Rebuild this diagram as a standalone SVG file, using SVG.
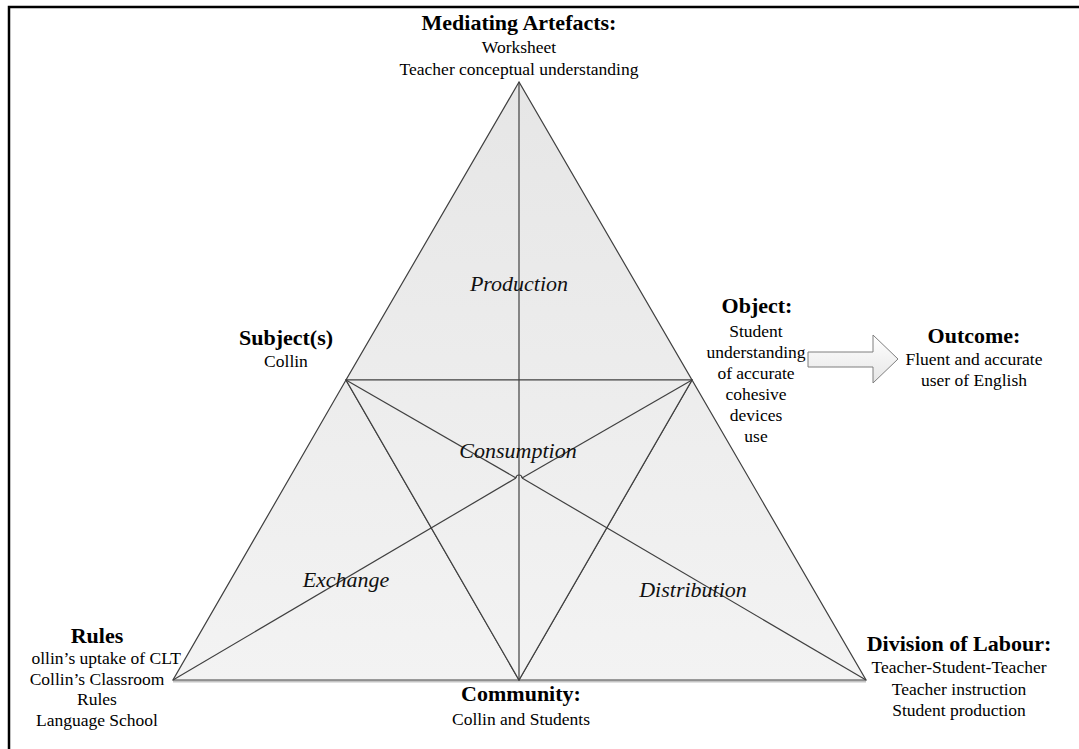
<svg xmlns="http://www.w3.org/2000/svg" width="1079" height="749" viewBox="0 0 1079 749">
  <defs>
    <linearGradient id="paneFill" gradientUnits="userSpaceOnUse" x1="0" y1="82" x2="0" y2="680">
      <stop offset="0" stop-color="#e6e6e6"/>
      <stop offset="1" stop-color="#f3f3f3"/>
    </linearGradient>
    <linearGradient id="arrowFill" x1="0" y1="0" x2="0" y2="1">
      <stop offset="0" stop-color="#ffffff"/>
      <stop offset="1" stop-color="#e6e6e6"/>
    </linearGradient>
  </defs>
  <style>
    .head{font-family:"Liberation Serif","Times New Roman",serif;font-weight:bold;font-size:22px;text-anchor:middle;fill:#000}
    .body{font-family:"Liberation Serif","Times New Roman",serif;font-size:17.5px;text-anchor:middle;fill:#000}
    .role{font-family:"Liberation Serif","Times New Roman",serif;font-style:italic;font-size:22px;text-anchor:middle;fill:#111}
    .pane{fill:url(#paneFill);stroke:#404040;stroke-width:1.2;stroke-linejoin:miter}
    .rib{fill:none;stroke:#404040;stroke-width:1.2}
  </style>

  <rect x="0" y="0" width="1079" height="749" fill="#ffffff"/>
  <!-- page frame -->
  <path d="M9 749 V7 H1079" fill="none" stroke="#000" stroke-width="2.5"/>

  <!-- activity system triangle -->
  <g id="activity-triangle">
    <line x1="173" y1="681.5" x2="866" y2="681.5" stroke="#c4c4c4" stroke-width="2"/>
    <path class="pane" d="M519 82 L346 380 L692 380 Z"/>
    <path class="pane" d="M346 380 L173 680 L519 680 Z"/>
    <path class="pane" d="M692 380 L519 680 L866 680 Z"/>
    <path class="pane" d="M346 380 L692 380 L519 680 Z"/>
    <path class="rib" d="M519 82 V680"/>
    <path class="rib" d="M346 380 L516 478"/>
    <path class="rib" d="M522 478 L866 680"/>
    <path class="rib" d="M692 380 L522 478"/>
    <path class="rib" d="M516 478 L173 680"/>
    <path class="rib" d="M516 478 A3 3 0 0 1 522 478"/>
    <text class="role" x="519" y="291">Production</text>
    <text class="role" x="518" y="458">Consumption</text>
    <text class="role" x="346" y="587">Exchange</text>
    <text class="role" x="693" y="597">Distribution</text>
  </g>

  <g id="node-mediating-artefacts">
    <text class="head" x="519" y="30">Mediating Artefacts:</text>
    <text class="body" x="519" y="53">Worksheet</text>
    <text class="body" x="519" y="75">Teacher conceptual understanding</text>
  </g>

  <g id="node-subject">
    <text class="head" x="286" y="345">Subject(s)</text>
    <text class="body" x="286" y="367">Collin</text>
  </g>

  <g id="node-object">
    <text class="head" x="757" y="313">Object:</text>
    <text class="body" x="756" y="337">Student</text>
    <text class="body" x="756" y="358">understanding</text>
    <text class="body" x="756" y="379">of accurate</text>
    <text class="body" x="756" y="400">cohesive</text>
    <text class="body" x="756" y="421">devices</text>
    <text class="body" x="756" y="442">use</text>
  </g>

  <g id="node-outcome">
    <text class="head" x="974" y="343">Outcome:</text>
    <text class="body" x="974" y="365">Fluent and accurate</text>
    <text class="body" x="974" y="386">user of English</text>
  </g>

  <g id="node-rules">
    <text class="head" x="97" y="643">Rules</text>
    <text class="body" x="181" y="664" style="text-anchor:end">ollin’s uptake of CLT</text>
    <text class="body" x="97" y="685">Collin’s Classroom</text>
    <text class="body" x="97" y="705">Rules</text>
    <text class="body" x="97" y="726">Language School</text>
  </g>

  <g id="node-community">
    <text class="head" x="521" y="701">Community:</text>
    <text class="body" x="521" y="725">Collin and Students</text>
  </g>

  <g id="node-division-of-labour">
    <text class="head" x="959" y="651">Division of Labour:</text>
    <text class="body" x="959" y="673">Teacher-Student-Teacher</text>
    <text class="body" x="959" y="695">Teacher instruction</text>
    <text class="body" x="959" y="716">Student production</text>
  </g>

  <!-- connectors -->
  <g id="connectors">
    <path d="M808 352 H873 V335 L898 359 L873 383 V367 H808 Z" fill="url(#arrowFill)" stroke="#7f7f7f" stroke-width="1"/>
  </g>
</svg>
